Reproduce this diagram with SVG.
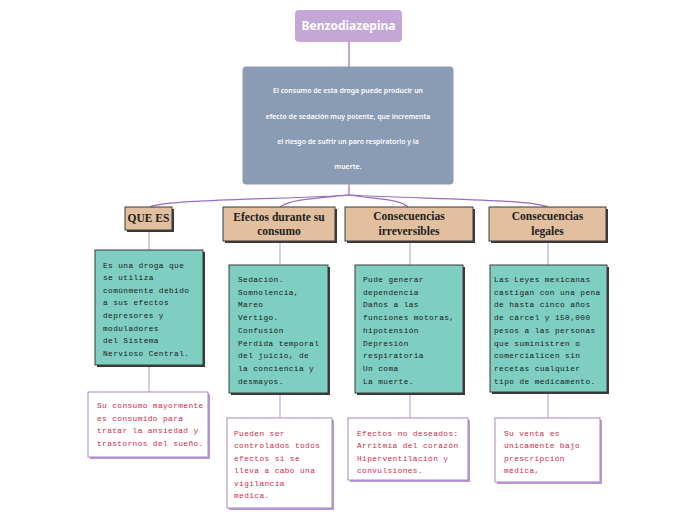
<svg xmlns="http://www.w3.org/2000/svg" width="696" height="520" viewBox="0 0 696 520">
<style>
.conn{fill:none;stroke:#9a6cc0;stroke-width:1.2}
.vl{fill:none;stroke:#c4a6dc;stroke-width:1.2}
.hdr{fill:#e1bf9f;stroke:#3a3a3a;stroke-width:1}
.hsh{fill:#3a3a3a}
.teal{fill:#7ecfc1;stroke:#3a3a3a;stroke-width:1}
.tsh{fill:#3a3a3a}
.pink{fill:#ffffff;stroke:#a884c4;stroke-width:1}
.psh{fill:#b99ad2}
.ht{font-family:"Liberation Serif","DejaVu Serif",serif;font-weight:bold;font-size:11.5px;fill:#1e1e1e;text-anchor:middle}
.tt{font-family:"Liberation Mono","DejaVu Sans Mono",monospace;font-size:7.8px;letter-spacing:0.4px;fill:#1a1a1a}
.pt{font-family:"Liberation Mono","DejaVu Sans Mono",monospace;font-size:7.8px;letter-spacing:0.4px;fill:#d0284a}
.mt{font-family:"Noto Sans","Liberation Sans",sans-serif;font-size:6.9px;font-weight:600;fill:#ffffff;text-anchor:middle}
</style>
<rect width="696" height="520" fill="#ffffff"/>
<g id="connectors">
<path class="conn" d="M349,41 V67"/>
<path class="conn" d="M349,184 V195"/>
<path class="conn" d="M349,195 C300,199 165,199 150,207"/>
<path class="conn" d="M349,195 C320,198 290,199 280,207"/>
<path class="conn" d="M349,195 C375,199 400,199 408,207"/>
<path class="conn" d="M349,195 C420,199 530,199 548,207"/>
<path class="vl" d="M149,230 V250"/>
<path class="vl" d="M149,365 V392"/>
<path class="vl" d="M280,241 V265"/>
<path class="vl" d="M280,393 V418"/>
<path class="vl" d="M410,241 V265"/>
<path class="vl" d="M410,393 V418"/>
<path class="vl" d="M548,241 V265"/>
<path class="vl" d="M548,392 V418"/>
</g>
<g id="title">
<rect x="295" y="10" width="107" height="32" rx="4" fill="#c5a7d7"/>
<text x="348.5" y="30" font-family="'Noto Sans','Liberation Sans',sans-serif" font-size="12px" font-weight="bold" fill="#ffffff" text-anchor="middle">Benzodiazepina</text>
</g>
<g id="main">
<rect x="242.5" y="66.5" width="211" height="118" rx="4" fill="#8a9bb4"/>
<text class="mt" x="348" y="93.3">El consumo de esta droga puede producir un</text>
<text class="mt" x="348" y="119">efecto de sedación muy potente, que incrementa</text>
<text class="mt" x="348" y="144">el riesgo de sufrir un paro respiratorio y la</text>
<text class="mt" x="348" y="169">muerte.</text>
</g>
<g id="h-quees">
<rect class="hsh" x="127" y="209" width="47" height="23"/>
<rect class="hdr" x="125" y="207" width="47" height="23"/>
<text class="ht" x="148.5" y="221.5">QUE ES</text>
</g>
<g id="h-efectos">
<rect class="hsh" x="225" y="209" width="112" height="34"/>
<rect class="hdr" x="223" y="207" width="112" height="34"/>
<text class="ht" x="279" y="220.5">Efectos durante su</text>
<text class="ht" x="279" y="235">consumo</text>
</g>
<g id="h-irrev">
<rect class="hsh" x="347" y="209" width="128" height="34"/>
<rect class="hdr" x="345" y="207" width="128" height="34"/>
<text class="ht" x="409" y="220">Consecuencias</text>
<text class="ht" x="409" y="234.5">irreversibles</text>
</g>
<g id="h-legales">
<rect class="hsh" x="491" y="209" width="117" height="34"/>
<rect class="hdr" x="489" y="207" width="117" height="34"/>
<text class="ht" x="547.5" y="220">Consecuencias</text>
<text class="ht" x="547.5" y="234.5">legales</text>
</g>
<g id="t-quees">
<rect class="tsh" x="97" y="252" width="108" height="115"/>
<rect class="teal" x="95" y="250" width="108" height="115"/>
<text class="tt" x="103" y="267.5">Es una droga que</text>
<text class="tt" x="103" y="280.1">se utiliza</text>
<text class="tt" x="103" y="292.7">comúnmente debido</text>
<text class="tt" x="103" y="305.3">a sus efectos</text>
<text class="tt" x="103" y="317.9">depresores y</text>
<text class="tt" x="103" y="330.5">moduladores</text>
<text class="tt" x="103" y="343.1">del Sistema</text>
<text class="tt" x="103" y="355.7">Nervioso Central.</text>
</g>
<g id="t-efectos">
<rect class="tsh" x="231" y="267" width="99" height="128"/>
<rect class="teal" x="229" y="265" width="99" height="128"/>
<text class="tt" x="238" y="282">Sedación.</text>
<text class="tt" x="238" y="294.7">Somnolencia,</text>
<text class="tt" x="238" y="307.4">Mareo</text>
<text class="tt" x="238" y="320.1">Vértigo.</text>
<text class="tt" x="238" y="332.8">Confusión</text>
<text class="tt" x="238" y="345.5">Pérdida temporal</text>
<text class="tt" x="238" y="358.2">del juicio, de</text>
<text class="tt" x="238" y="370.9">la conciencia y</text>
<text class="tt" x="238" y="383.6">desmayos.</text>
</g>
<g id="t-irrev">
<rect class="tsh" x="357" y="267" width="108" height="128"/>
<rect class="teal" x="355" y="265" width="108" height="128"/>
<text class="tt" x="363" y="282">Pude generar</text>
<text class="tt" x="363" y="294.7">dependencia</text>
<text class="tt" x="363" y="307.4">Daños a las</text>
<text class="tt" x="363" y="320.1">funciones motoras,</text>
<text class="tt" x="363" y="332.8">hipotensión</text>
<text class="tt" x="363" y="345.5">Depresión</text>
<text class="tt" x="363" y="358.2">respiratoria</text>
<text class="tt" x="363" y="370.9">Un coma</text>
<text class="tt" x="363" y="383.6">La muerte.</text>
</g>
<g id="t-legales">
<rect class="tsh" x="492" y="267" width="117" height="127"/>
<rect class="teal" x="490" y="265" width="117" height="127"/>
<text class="tt" x="494" y="282">Las Leyes mexicanas</text>
<text class="tt" x="494" y="294.7">castigan con una pena</text>
<text class="tt" x="494" y="307.4">de hasta cinco años</text>
<text class="tt" x="494" y="320.1">de cárcel y 150,000</text>
<text class="tt" x="494" y="332.8">pesos a las personas</text>
<text class="tt" x="494" y="345.5">que suministren o</text>
<text class="tt" x="494" y="358.2">comercialicen sin</text>
<text class="tt" x="494" y="370.9">recetas cualquier</text>
<text class="tt" x="494" y="383.6">tipo de medicamento.</text>
</g>
<g id="p-quees">
<rect class="psh" x="90" y="394" width="120" height="65"/>
<rect class="pink" x="88" y="392" width="120" height="65"/>
<text class="pt" x="97" y="408">Su consumo mayormente</text>
<text class="pt" x="97" y="420.7">es consumido para</text>
<text class="pt" x="97" y="433.4">tratar la ansiedad y</text>
<text class="pt" x="97" y="446.1">trastornos del sueño.</text>
</g>
<g id="p-efectos">
<rect class="psh" x="229" y="420" width="105" height="90"/>
<rect class="pink" x="227" y="418" width="105" height="90"/>
<text class="pt" x="234" y="435.7">Pueden ser</text>
<text class="pt" x="234" y="448.2">controlados todos</text>
<text class="pt" x="234" y="460.7">efectos si se</text>
<text class="pt" x="234" y="473.2">lleva a cabo una</text>
<text class="pt" x="234" y="485.7">vigilancia</text>
<text class="pt" x="234" y="498.2">medica.</text>
</g>
<g id="p-irrev">
<rect class="psh" x="350" y="420" width="120" height="62"/>
<rect class="pink" x="348" y="418" width="120" height="62"/>
<text class="pt" x="357" y="435.7">Efectos no deseados:</text>
<text class="pt" x="357" y="448.1">Arritmia del corazón</text>
<text class="pt" x="357" y="460.5">Hiperventilación y</text>
<text class="pt" x="357" y="473.2">convulsiones.</text>
</g>
<g id="p-legales">
<rect class="psh" x="497" y="420" width="105" height="64"/>
<rect class="pink" x="495" y="418" width="105" height="64"/>
<text class="pt" x="504" y="435.7">Su venta es</text>
<text class="pt" x="504" y="448.1">únicamente bajo</text>
<text class="pt" x="504" y="460.5">prescripción</text>
<text class="pt" x="504" y="473.2">médica,</text>
</g>
</svg>
